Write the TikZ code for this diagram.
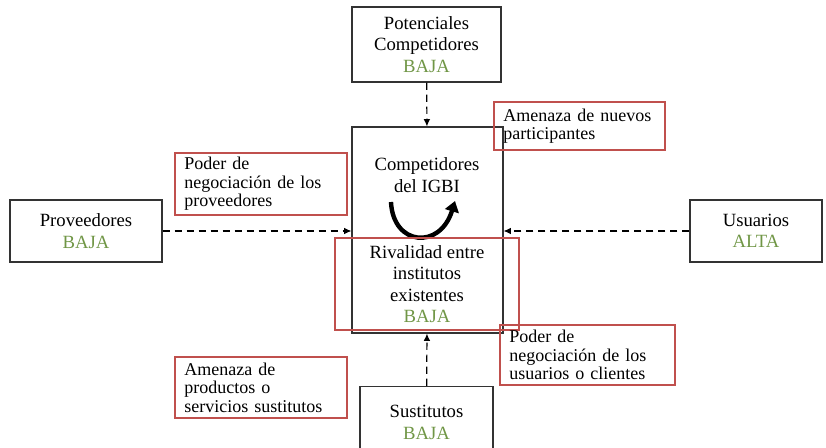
\documentclass[tikz,border=0pt]{standalone}
\usepackage{fontspec}
\setmainfont{Liberation Serif}
\usetikzlibrary{arrows.meta}
\definecolor{rojo}{RGB}{192,80,77}
\definecolor{verde}{RGB}{112,150,70}

\begin{document}
\begin{tikzpicture}[x=0.75pt,y=-0.75pt,
        caja/.style={draw=black!80,line width=0.8pt,align=center,inner sep=0pt,
            font=\fontsize{14}{16}\selectfont},
        marco/.style={draw=rojo,line width=0.8pt,align=left,inner xsep=7pt,inner ysep=0pt,
            font=\fontsize{13.5}{13.8}\selectfont},
        flecha/.style={-{Latex[length=5.5pt,width=5pt]},dashed,dash pattern=on 5.5pt off 3.5pt,line width=0.9pt}]
        \useasboundingbox (0,0) rectangle (826,447);

        % fuerzas
        \node[caja,minimum width=111.75pt,minimum height=56.25pt] (pot) at (426.5,44.5) {Potenciales\\Competidores\\\textcolor{verde}{BAJA}};
        \node[caja,minimum width=113.25pt,minimum height=154.5pt] (comp) at (427.5,230) {};
        \node[caja,minimum width=114pt,minimum height=46.5pt] (prov) at (86,231) {Proveedores\\\textcolor{verde}{BAJA}};
        \node[caja,minimum width=99pt,minimum height=46.5pt] (usu) at (756,231) {Usuarios\\\textcolor{verde}{ALTA}};
        \node[caja,minimum width=99.75pt,minimum height=54pt] (sus) at (426.5,422.5) {Sustitutos\\\textcolor{verde}{BAJA}};

        \node[align=center,font=\fontsize{14}{16}\selectfont] (titcomp) at (427,175) {Competidores\\del IGBI};
        \draw[line width=3.3pt,-{Triangle[length=8pt,width=10.5pt]}] (391,202) .. controls (393,246) and (440,250) .. (455,201);

        % amenazas
        \node[marco,text width=114.25pt,minimum width=128.25pt,minimum height=36pt] (nuevos) at (579.5,126) {Amenaza de nuevos\\participantes};
        \node[marco,text width=115pt,minimum width=129pt,minimum height=46.5pt] (negprov) at (261,184) {Poder de\\negociación de los\\proveedores};
        \node[caja,draw=rojo,minimum width=138pt,minimum height=69pt] (rival) at (427,284) {Rivalidad entre\\institutos\\existentes\\\textcolor{verde}{BAJA}};
        \node[marco,text width=117.25pt,minimum width=131.25pt,minimum height=45pt] (negusu) at (587.5,355) {Poder de\\negociación de los\\usuarios o clientes};
        \node[marco,text width=115pt,minimum width=129pt,minimum height=45.75pt] (amsus) at (261,387.5) {Amenaza de\\productos o\\servicios sustitutos};

        \draw[flecha] (pot) -- (comp);
        \draw[flecha] (prov) -- (prov -| comp.west);
        \draw[flecha] (usu) -- (usu -| comp.east);
        \draw[flecha] (sus) -- (comp);
    \end{tikzpicture}
\end{document}
